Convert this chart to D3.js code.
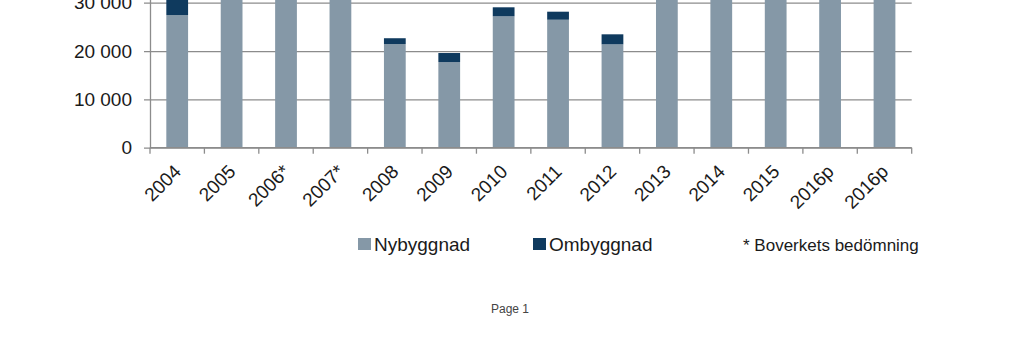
<!DOCTYPE html>
<html>
<head>
<meta charset="utf-8">
<script src="https://cdn.jsdelivr.net/npm/d3@7"></script>
<style>
  html, body { margin: 0; padding: 0; background: #fff; }
  svg { display: block; font-family: 'Liberation Sans', Arial, sans-serif; }
</style>
</head>
<body>
<div id="chart"></div>
<script>
// kategorier (2016p förekommer två gånger i originalet)
const years = ['2004', '2005', '2006*', '2007*', '2008', '2009', '2010', '2011', '2012', '2013', '2014', '2015', '2016p', '2016p']
// påbörjade lägenheter, nybyggnad resp. ombyggnad
const nybyggnad = [27450, 33000, 45000, 34000, 21450, 17730, 27190, 26480, 21390, 32000, 37000, 46000, 52000, 55000]
const ombyggnad = [3500, 2500, 2500, 2500, 1200, 1860, 1860, 1660, 2070, 2500, 3000, 3500, 3500, 3500]
// synliga y-etiketter (bilden är beskuren ovanför 30 000)
const yTicks = [0, 10000, 20000, 30000]
const seriesNames = ['Nybyggnad', 'Ombyggnad']
const footnote = '* Boverkets bedömning'

const width = 1023
const height = 362
const colors = ['#8598a7', '#0f3a5e']
const axisColor = '#8c8c8c'
const textColor = '#1a1a1a'

const svg = d3.select('#chart')
  .append('svg')
  .attr('width', width)
  .attr('height', height)

const left = 150
const right = 911.7
const zeroY = 147.7
const per10k = 48.33

const x = d3.scaleBand()
  .domain(d3.range(years.length))
  .range([left, right])
  .paddingInner(0.6)
  .paddingOuter(0.3)

const y = d3.scaleLinear()
  .domain([0, 60000])
  .range([zeroY, zeroY - 6 * per10k])

// stödlinjer
svg.append('g')
  .attr('transform', `translate(${left - 6},0)`)
  .call(d3.axisRight(y).tickValues(yTicks).tickSize(right - left + 6).tickFormat(''))
  .call(g => g.select('.domain').remove())
  .call(g => g.selectAll('line').attr('stroke', axisColor).attr('stroke-width', 1.3))

// y-axel med etiketter
svg.append('g')
  .attr('transform', `translate(${left},0)`)
  .call(d3.axisLeft(y).tickValues(yTicks).tickSize(0).tickPadding(18)
    .tickFormat(d => d3.format(',')(d).replace(/,/g, ' ')))
  .call(g => g.select('.domain').attr('stroke', axisColor).attr('stroke-width', 1.3))
  .call(g => g.selectAll('text')
    .attr('fill', textColor)
    .style('font-size', '19px'))

// staplade staplar
const stacked = years.map((name, i) => ({ i, values: [nybyggnad[i], ombyggnad[i]] }))
const bars = svg.append('g')
stacked.forEach(d => {
  let base = 0
  d.values.forEach((v, k) => {
    bars.append('rect')
      .attr('x', x(d.i))
      .attr('width', x.bandwidth())
      .attr('y', y(base + v))
      .attr('height', y(base) - y(base + v))
      .attr('fill', colors[k])
    base += v
  })
})

// x-axel
const xAxis = svg.append('g')
xAxis.append('line')
  .attr('x1', left).attr('x2', right)
  .attr('y1', zeroY).attr('y2', zeroY)
  .attr('stroke', axisColor).attr('stroke-width', 1.3)
xAxis.selectAll('line.tick')
  .data(d3.range(years.length + 1))
  .enter()
  .append('line')
  .attr('class', 'tick')
  .attr('x1', i => left + i * x.step())
  .attr('x2', i => left + i * x.step())
  .attr('y1', zeroY)
  .attr('y2', zeroY + 6)
  .attr('stroke', axisColor).attr('stroke-width', 1.3)
xAxis.selectAll('text')
  .data(years)
  .enter()
  .append('text')
  .attr('transform', (d, i) => `translate(${x(i) + x.bandwidth() / 2 + 5},${zeroY + 25}) rotate(-45)`)
  .attr('text-anchor', 'end')
  .attr('fill', textColor)
  .style('font-size', '19px')
  .text(d => d)

// teckenförklaring
const legendX = [358, 533]
seriesNames.forEach((name, k) => {
  svg.append('rect')
    .attr('x', legendX[k]).attr('y', 238)
    .attr('width', 13).attr('height', 12)
    .attr('fill', colors[k])
  svg.append('text')
    .attr('x', legendX[k] + 16).attr('y', 251)
    .attr('fill', textColor)
    .style('font-size', '19px')
    .text(name)
})

svg.append('text')
  .attr('x', 743).attr('y', 251)
  .attr('fill', textColor)
  .style('font-size', '17px')
  .text(footnote)

svg.append('text')
  .attr('x', 510).attr('y', 313)
  .attr('text-anchor', 'middle')
  .attr('fill', '#444')
  .style('font-size', '12px')
  .text('Page 1')
</script>
</body>
</html>
